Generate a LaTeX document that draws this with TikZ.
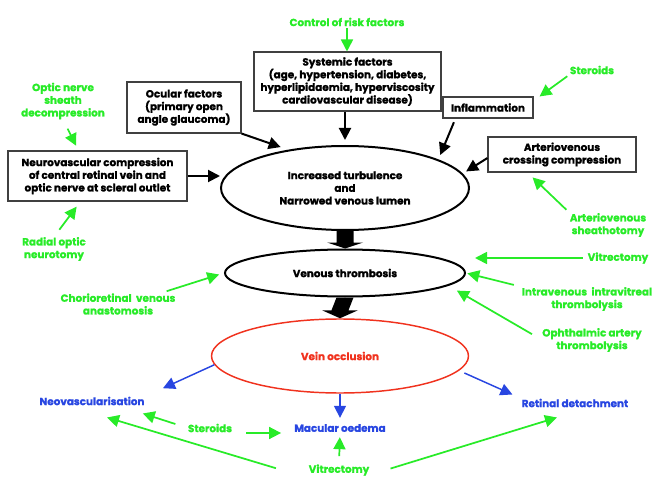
\documentclass[tikz,border=0pt]{standalone}
\usepackage{fontspec}
\setmainfont{Poppins}[BoldFeatures={FakeBold=1.3}]
\usetikzlibrary{arrows.meta,shapes.geometric,calc}
\definecolor{gr}{RGB}{40,235,40}
\definecolor{bl}{RGB}{40,70,225}
\definecolor{rd}{RGB}{240,50,30}
\tikzset{
  txt/.style={font=\bfseries\fontsize{7.8}{9.5}\selectfont, align=center, inner sep=0pt},
  gtxt/.style={txt, text=gr},
  btxt/.style={txt, text=bl},
  bx/.style={txt, draw=black!75, line width=0.8pt},
  ell/.style={txt, ellipse, draw=black, line width=1.5pt},
  tipshape/.style={-{Triangle[length=9pt,width=9pt]}},
  garr/.style={draw=gr, line width=1.3pt, tipshape},
  karr/.style={draw=black, line width=1.5pt, tipshape},
  barr/.style={draw=bl, line width=1.1pt, tipshape},
}
\begin{document}
\begin{tikzpicture}[x=0.75pt,y=-0.75pt]
\useasboundingbox (0,0) rectangle (665,478);

% boxes
\node[bx, minimum width=140.25pt, minimum height=44.25pt] (sys) at (347.5,81.5)
  {Systemic factors\\(age, hypertension, diabetes,\\hyperlipidaemia, hyperviscosity\\cardiovascular disease)};
\node[bx, minimum width=85.5pt, minimum height=38.25pt] (oc) at (184,107.5)
  {Ocular factors\\(primary open\\angle glaucoma)};
\node[bx, minimum width=134.25pt, minimum height=37.5pt] (nv) at (97.5,176)
  {Neurovascular compression\\of central retinal vein and\\optic nerve at scleral outlet};
\node[bx, minimum width=67.5pt, minimum height=15.75pt] (infl) at (488,107.5) {Inflammation};
\node[bx, minimum width=111pt, minimum height=26.25pt] (av) at (562,154.5)
  {Arteriovenous\\crossing compression};

% ellipses
\node[ell, minimum width=186pt, minimum height=63pt] (e1) at (345,188)
  {Increased turbulence\\and\\Narrowed venous lumen};
\node[ell, minimum width=180pt, minimum height=35.25pt] (e2) at (345,273) {Venous thrombosis};
\node[ell, draw=rd, line width=1.1pt, text=rd, minimum width=192.75pt, minimum height=55.5pt] (vo) at (340,356) {Vein occlusion};

% green labels
\node[gtxt] (ctrl) at (347,22) {Control of risk factors};
\node[gtxt] (sheath) at (63,101) {Optic nerve\\sheath\\decompression};
\node[gtxt] (radial) at (54,249) {Radial optic\\neurotomy};
\node[gtxt] (ster1) at (592,70) {Steroids};
\node[gtxt] (avs) at (608,225) {Arteriovenous\\sheathotomy};
\node[gtxt] (vit1) at (618,258) {Vitrectomy};
\node[gtxt] (ivt) at (587,299) {Intravenous\ \ intravitreal\\thrombolysis};
\node[gtxt] (oat) at (592,340) {Ophthalmic artery\\thrombolysis};
\node[gtxt] (chor) at (118,304) {Chorioretinal\ \ venous\\anastomosis};
\node[gtxt] (ster2) at (210,428) {Steroids};
\node[gtxt] (vit2) at (339,470) {Vitrectomy};

% blue labels
\node[btxt] (neo) at (92,401) {Neovascularisation};
\node[btxt] (mac) at (340,428) {Macular oedema};
\node[btxt] (ret) at (575,403) {Retinal detachment};

% big block arrows
\fill ($(e1.south)+(-8.5,0)$) -- ($(e2.north)+(-8.5,-6)$) -- ($(e2.north)+(-18,-6)$) -- (e2.north)
  -- ($(e2.north)+(18,-6)$) -- ($(e2.north)+(8.5,-6)$) -- ($(e1.south)+(8.5,0)$) -- cycle;
\fill ($(e2.south)+(-8.5,0)$) -- ($(vo.north)+(-8.5,-8)$) -- ($(vo.north)+(-18,-8)$) -- (vo.north)
  -- ($(vo.north)+(18,-8)$) -- ($(vo.north)+(8.5,-8)$) -- ($(e2.south)+(8.5,0)$) -- cycle;

% black arrows into e1
\draw[karr, shorten >=3.75pt] (sys.south -| e1.north) -- (e1.north);
\draw[karr, shorten >=6pt] (oc.south east) -- (e1.146.5);
\draw[karr, shorten <=3pt, shorten >=3.6pt] ($(infl.south west)+(13,0)$) -- (e1.17.4);
\draw[karr, shorten >=3pt] ($(av.west)+(0,3.5)$) -- (e1.7.5);
\draw[karr] (nv.east) -- (nv.east -| e1.west);

% green arrows (upper part)
\draw[garr, shorten <=1pt] (ctrl.south) -- (ctrl.south |- sys.north);
\draw[garr, shorten <=7.7pt, shorten >=4pt] (sheath.south) -- ($(nv.north west)+(71,0)$);
\draw[garr, shorten <=6.7pt, shorten >=4.8pt] (radial.north) -- ($(nv.south west)+(73,0)$);
\draw[garr, shorten <=2.25pt] (ster1.south west) -- ($(infl.north east)+(6,0)$);
\draw[garr, shorten <=3.4pt, shorten >=5.3pt] (avs.north west) -- ($(av.south west)+(40,0)$);
\draw[garr, shorten <=3.75pt, shorten >=6.75pt] (vit1.west) -- (vit1.west -| e2.east);
\draw[garr, shorten <=6pt, shorten >=1pt] (ivt.north west) -- (e2.east);
\draw[garr, shorten <=8.7pt, shorten >=7.3pt] (oat.west) -- (e2.-7);
\draw[garr, shorten >=3.75pt] ($(chor.north east)+(-9,-2)$) -- (e2.west);

% blue arrows
\draw[barr, shorten >=15pt] (vo.184) -- (neo.north east);
\draw[barr, shorten >=4.5pt] (vo.south) -- (mac.north);
\draw[barr, shorten <=4.3pt, shorten >=7.4pt] (vo.-7.2) -- (ret.north west);

% green arrows (lower part)
\draw[garr, shorten <=9.75pt] (ster2.west) -- ($(neo.south east)+(-2,8)$);
\draw[garr, shorten <=10.5pt, shorten >=9.75pt] ($(ster2.east)+(0,5)$) -- ($(mac.west)+(0,5)$);
\draw[garr, shorten <=25.5pt] ($(vit2.west)+(0,8)$) -- ($(neo.south)+(15,12)$);
\draw[garr, shorten <=6pt, shorten >=3.75pt] (vit2.north) -- (mac.south);
\draw[garr, shorten <=16.5pt] ($(vit2.east)+(0,5)$) -- ($(ret.south)+(-18,10)$);
\end{tikzpicture}
\end{document}
